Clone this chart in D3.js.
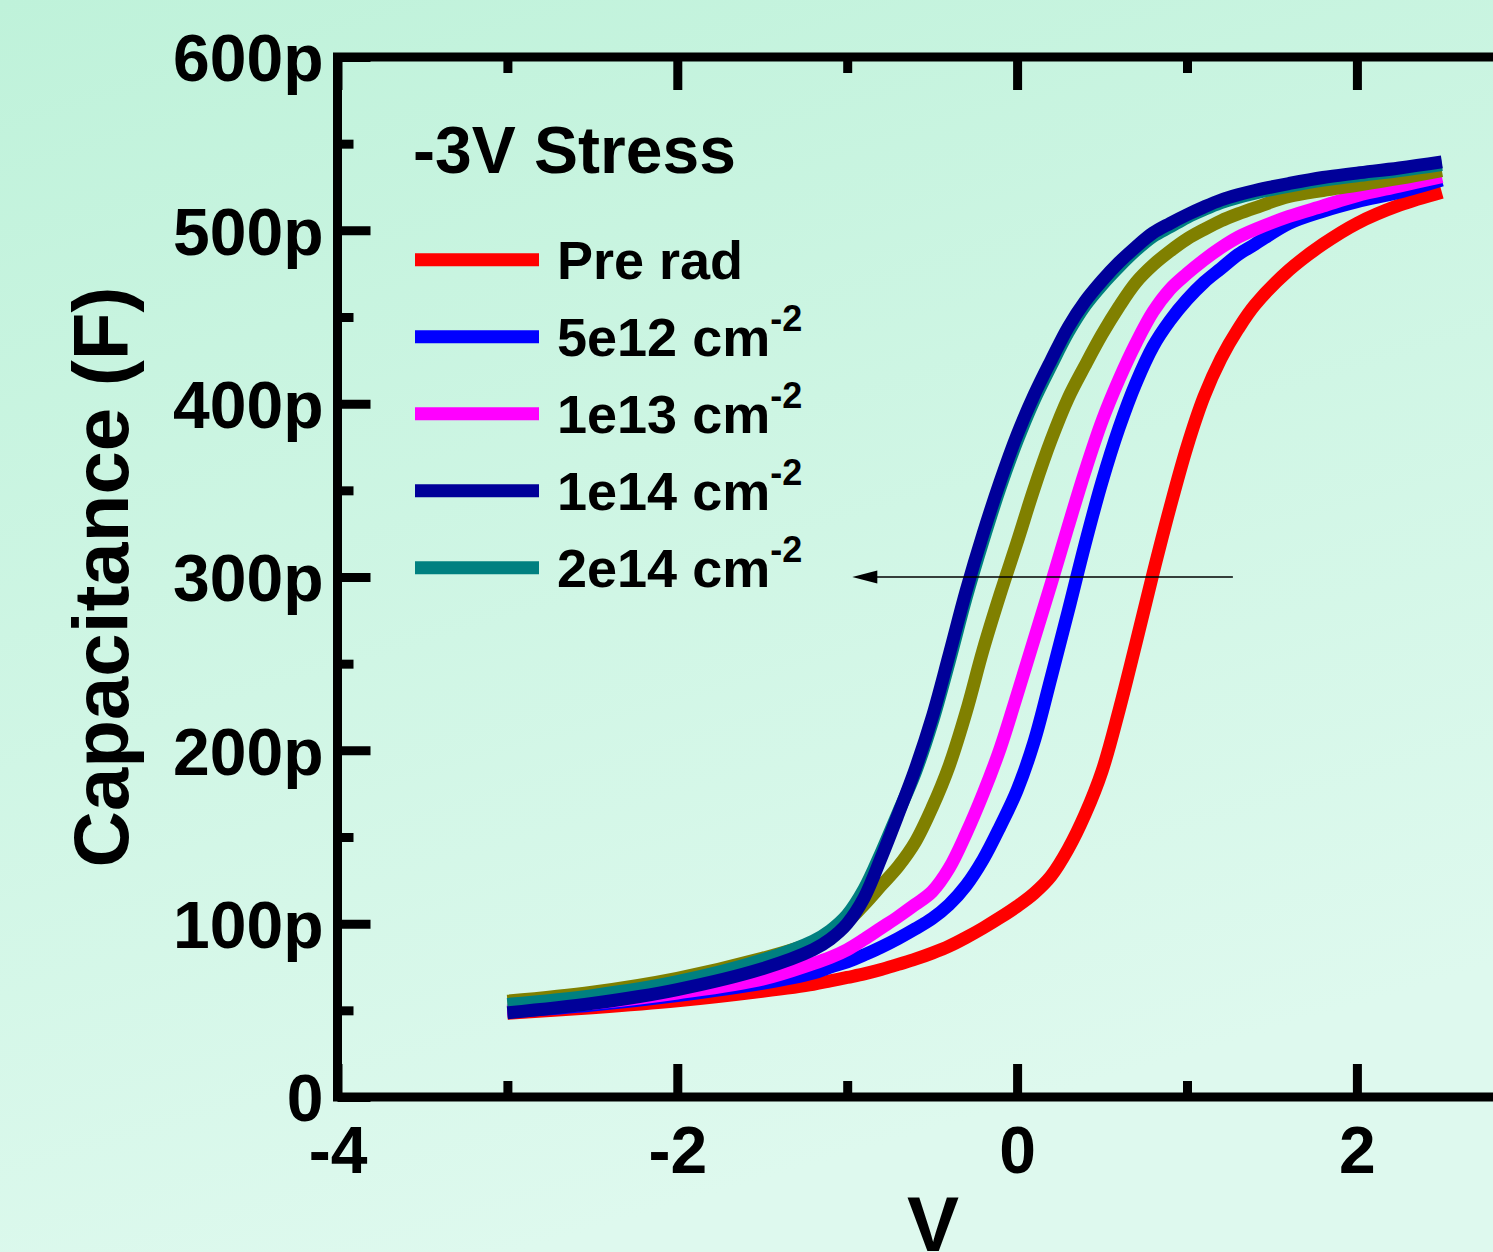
<!DOCTYPE html>
<html lang="en">
<head>
<meta charset="UTF-8">
<title>C-V after -3V stress</title>
<script src="https://cdn.jsdelivr.net/npm/d3@7"></script>
<style>
  html, body { margin: 0; padding: 0; }
  body { width: 1493px; height: 1252px; overflow: hidden; }
  svg { display: block; font-family: "Liberation Sans", Arial, sans-serif; font-weight: bold; }
</style>
</head>
<body>
<script>
// gate voltage (V)
const voltage = [-3, -2.5, -2, -1.5, -1.2, -1.1, -1.0, -0.9, -0.8, -0.7, -0.6, -0.5, -0.4, -0.3, -0.2, -0.1,
                 0, 0.1, 0.2, 0.3, 0.4, 0.5, 0.6, 0.7, 0.8, 0.9, 1.0, 1.1, 1.2, 1.3, 1.4,
                 1.6, 1.8, 2.0, 2.25, 2.5];

// capacitance in pF
const capPreRad = [48.3, 51.5, 55.5, 61, 65, 67, 69, 71, 73.5, 76.5, 79.5, 83, 87, 92, 97.5, 103.5,
                   110, 117.5, 127.5, 143, 163, 188, 223, 262, 302, 340, 375, 404, 426, 443, 457,
                   477, 492, 504, 514.5, 522];
const cap5e12 = [49, 53, 58.5, 65.5, 71.5, 75, 78, 82, 86.5, 91.5, 97, 103, 111, 122, 137, 156,
                 177, 205, 242, 280, 319, 355, 386, 412, 433, 448, 460, 470, 478, 486, 492,
                 504, 511, 516.5, 522, 529];
const cap1e13 = [49.6, 54, 60, 68, 77, 80.5, 85, 91, 97.5, 104, 111, 118.5, 132, 152, 175, 201,
                 232, 264, 296, 329, 361, 390, 414, 435, 453, 466, 475, 483, 490, 496, 500.5,
                 508, 514, 520, 525.5, 531];
const cap1e14 = [48.6, 54, 62, 74, 85, 91, 100, 115, 138, 163, 189, 219, 255, 292, 325, 355,
                 382, 405, 425, 444, 459, 471, 481.5, 490.5, 498.5, 504, 509, 513.5, 517.5, 520.5, 523,
                 527, 530.5, 533, 536, 539.5];
const cap2e14 = [53.4, 58.5, 66.5, 79, 90, 96, 105, 120, 141, 164, 187, 216, 251, 288, 321, 351.5,
                 378.5, 402, 422, 441, 456.5, 468.5, 479, 488.5, 496.5, 502, 507.5, 512, 516, 519, 521.5,
                 525.5, 529, 531.5, 534.5, 538];
// extra olive curve (not in legend)
const capOlive = [55.3, 60.5, 68.5, 80, 89, 94, 101, 111, 122, 133, 147, 167, 191, 222, 258, 290,
                  320, 351, 379, 403, 422, 440, 456, 470, 480, 488, 495, 500.5, 505.5, 509.5, 513,
                  519.5, 523, 526, 530, 534.5];

const xMajorTicks = [-4, -2, 0, 2];
const xMinorTicks = [-3, -1, 1];
const yMajorTicks = [0, 100, 200, 300, 400, 500, 600];
const yTickLabels = ['0', '100p', '200p', '300p', '400p', '500p', '600p'];
const yMinorTicks = [50, 150, 250, 350, 450, 550];

const legendNames = ['Pre rad', '5e12 cm', '1e13 cm', '1e14 cm', '2e14 cm'];
const legendSup = ['', '-2', '-2', '-2', '-2'];
const legendColors = ['#ff0000', '#0000ff', '#ff00ff', '#000099', '#008080'];

// shift arrow at 300p
const arrowFrom = [1.27, 300];
const arrowTo = [-0.97, 300];

const w = 1493, h = 1252;

const svg = d3.select('body').append('svg')
  .attr('width', w)
  .attr('height', h);

const defs = svg.append('defs');
const grad = defs.append('linearGradient')
  .attr('id', 'bg')
  .attr('x1', 0).attr('y1', 0)
  .attr('x2', 0.35).attr('y2', 1);
grad.append('stop').attr('offset', '0%').attr('stop-color', '#bff2da');
grad.append('stop').attr('offset', '100%').attr('stop-color', '#def9ee');

svg.append('rect')
  .attr('width', w).attr('height', h)
  .attr('fill', 'url(#bg)');

const x = d3.scaleLinear().domain([-4, 3]).range([337.5, 337.5 + 7 * 169.9]);
const y = d3.scaleLinear().domain([0, 600]).range([1097, 57]);

// curves
const series = [
  { values: capPreRad, color: '#ff0000' },
  { values: cap5e12, color: '#0000ff' },
  { values: cap1e13, color: '#ff00ff' },
  { values: capOlive, color: '#808000' },
  { values: cap2e14, color: '#008080' },
  { values: cap1e14, color: '#000099' }
];

const line = d3.line()
  .x(d => x(d[0]))
  .y(d => y(d[1]))
  .curve(d3.curveCatmullRom.alpha(0.5));

svg.append('g')
  .selectAll('path')
  .data(series)
  .enter()
  .append('path')
  .attr('d', s => line(voltage.map((v, i) => [v, s.values[i]])))
  .attr('fill', 'none')
  .attr('stroke', s => s.color)
  .attr('stroke-width', 13)
  .attr('stroke-linejoin', 'round');

// frame
svg.append('path')
  .attr('d', `M${x(3)},${y(600)}L${x(-4)},${y(600)}L${x(-4)},${y(0)}L${x(3)},${y(0)}`)
  .attr('fill', 'none')
  .attr('stroke', '#000')
  .attr('stroke-width', 9)
  .attr('stroke-linejoin', 'miter');

function styleAxis(g, size) {
  g.select('.domain').remove();
  g.attr('font-family', null).attr('font-size', null);
  g.selectAll('.tick line').attr('stroke', '#000').attr('stroke-width', 9);
  g.selectAll('.tick text').attr('fill', '#000').style('font-size', size + 'px');
}

// bottom axis
svg.append('g')
  .attr('transform', `translate(0,${y(0)})`)
  .call(d3.axisBottom(x).tickValues(xMajorTicks).tickSize(-33).tickPadding(29).tickFormat(d => String(d)))
  .call(g => styleAxis(g, 66));
svg.append('g')
  .attr('transform', `translate(0,${y(0)})`)
  .call(d3.axisBottom(x).tickValues(xMinorTicks).tickSize(-16).tickFormat(''))
  .call(g => styleAxis(g, 66));

// top axis
svg.append('g')
  .attr('transform', `translate(0,${y(600)})`)
  .call(d3.axisTop(x).tickValues(xMajorTicks).tickSize(-33).tickFormat(''))
  .call(g => styleAxis(g, 66));
svg.append('g')
  .attr('transform', `translate(0,${y(600)})`)
  .call(d3.axisTop(x).tickValues(xMinorTicks).tickSize(-16).tickFormat(''))
  .call(g => styleAxis(g, 66));

// left axis
svg.append('g')
  .attr('transform', `translate(${x(-4)},0)`)
  .call(d3.axisLeft(y).tickValues(yMajorTicks).tickSize(-33).tickPadding(14)
    .tickFormat((d, i) => yTickLabels[i]))
  .call(g => styleAxis(g, 66))
  .call(g => g.selectAll('.tick text').attr('dy', '0.36em'));
svg.append('g')
  .attr('transform', `translate(${x(-4)},0)`)
  .call(d3.axisLeft(y).tickValues(yMinorTicks).tickSize(-16).tickFormat(''))
  .call(g => styleAxis(g, 66));

// axis titles
svg.append('text')
  .attr('transform', `translate(128,${(y(0) + y(600)) / 2}) rotate(-90)`)
  .attr('text-anchor', 'middle')
  .style('font-size', '78px')
  .text('Capacitance (F)');

svg.append('text')
  .attr('x', 933)
  .attr('y', 1251)
  .attr('text-anchor', 'middle')
  .style('font-size', '78px')
  .text('V');

// arrow
svg.append('line')
  .attr('x1', x(arrowFrom[0])).attr('y1', y(arrowFrom[1]))
  .attr('x2', x(arrowTo[0]) + 20).attr('y2', y(arrowTo[1]))
  .attr('stroke', '#000')
  .attr('stroke-width', 1.6);
svg.append('path')
  .attr('d', `M${x(arrowTo[0])},${y(arrowTo[1])}l25,-6.5v13z`)
  .attr('fill', '#000');

// legend
svg.append('text')
  .attr('x', 413)
  .attr('y', 173)
  .style('font-size', '66px')
  .text('-3V Stress');

const legend = svg.append('g')
  .selectAll('g')
  .data(legendNames)
  .enter()
  .append('g')
  .attr('transform', (d, i) => `translate(415,${259.7 + i * 77})`);

legend.append('line')
  .attr('x1', 0).attr('x2', 124)
  .attr('stroke', (d, i) => legendColors[i])
  .attr('stroke-width', 13);

const lt = legend.append('text')
  .attr('x', 142)
  .attr('y', 19.5)
  .style('font-size', '54px');
lt.append('tspan').text(d => d);
lt.append('tspan')
  .attr('dy', -25)
  .style('font-size', '36px')
  .text((d, i) => legendSup[i]);
</script>
</body>
</html>
